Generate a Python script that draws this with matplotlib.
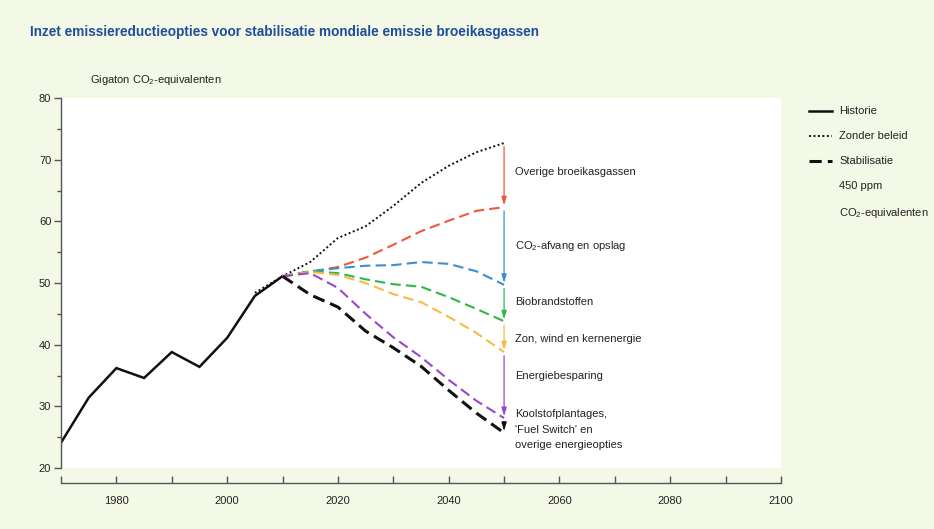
import matplotlib
matplotlib.use('Agg')
import matplotlib.pyplot as plt
from matplotlib.ticker import MultipleLocator
from matplotlib.lines import Line2D

FONT = ['Liberation Sans', 'DejaVu Sans']
plt.rcParams['font.family'] = FONT
plt.rcParams['mathtext.fontset'] = 'custom'
plt.rcParams['mathtext.rm'] = 'Liberation Sans'
plt.rcParams['mathtext.it'] = 'Liberation Sans'

# data (Gigaton CO2-equivalenten)
hist_years = [1970, 1975, 1980, 1985, 1990, 1995, 2000, 2005, 2010]
hist_vals = [24.1, 31.4, 36.2, 34.6, 38.8, 36.4, 41.1, 47.9, 51.1]

base_years = [2005, 2010, 2015, 2020, 2025, 2030, 2035, 2040, 2045, 2050]
base_vals = [48.4, 51.1, 53.4, 57.3, 59.2, 62.5, 66.2, 69.0, 71.2, 72.7]

scen_years = [2010, 2015, 2020, 2025, 2030, 2035, 2040, 2045, 2050]
overig = [51.1, 51.8, 52.6, 54.1, 56.2, 58.4, 60.1, 61.7, 62.3]
ccs = [51.1, 51.9, 52.4, 52.8, 52.9, 53.4, 53.1, 51.9, 49.7]
bio = [51.1, 51.9, 51.6, 50.6, 49.8, 49.4, 47.7, 45.8, 43.8]
zon = [51.1, 51.8, 51.3, 50.0, 48.2, 46.9, 44.5, 41.9, 38.8]
besparing = [51.1, 51.6, 49.2, 45.0, 41.2, 38.0, 34.3, 30.9, 28.1]
stabil = [51.1, 48.1, 46.1, 42.2, 39.5, 36.5, 32.6, 28.9, 25.7]

option_labels = ['Overige broeikasgassen', 'CO$_2$-afvang en opslag', 'Biobrandstoffen',
                 'Zon, wind en kernenergie', 'Energiebesparing',
                 "Koolstofplantages,\n'Fuel Switch' en\noverige energieopties"]
label_y = [68.0, 56.0, 46.9, 40.9, 34.9, 26.2]
colors = ['#f0583a', '#3a8fd0', '#2db84a', '#fdb944', '#9a46c8', '#111111']

bg = '#f4f9e7'
title_blue = '#1f4e9c'

fig = plt.figure(figsize=(9.34, 5.29), dpi=100, facecolor=bg)
ax = fig.add_axes([61 / 934, 1 - 468 / 529, 720 / 934, 370 / 529])
ax.set_facecolor('white')

ax.plot(hist_years, hist_vals, color='#111111', lw=1.8, solid_joinstyle='miter')
ax.plot(base_years, base_vals, color='#111111', lw=1.4, ls=(0, (1, 1.3)))
series = [overig, ccs, bio, zon, besparing]
for vals, c in zip(series, colors):
    ax.plot(scen_years, vals, color=c, lw=1.5, ls=(0, (5, 2.5)))
ax.plot(scen_years, stabil, color='#111111', lw=2.2, ls=(0, (4, 2)))

# arrows at 2050 between successive lines
ends = [base_vals[-1]] + [s[-1] for s in series] + [stabil[-1]]
for i, c in enumerate(colors):
    top, bot = ends[i], ends[i + 1]
    ax.annotate('', xy=(2050, bot + 0.3), xytext=(2050, top - 0.6),
                arrowprops=dict(arrowstyle='-|>,head_length=0.5,head_width=0.15',
                                color=c, lw=0.9, shrinkA=0, shrinkB=0))

for txt, y in zip(option_labels, label_y):
    ax.text(2052, y, txt, fontsize=8, va='center', ha='left', color='#222222',
            linespacing=1.7)

ax.set_xlim(1970, 2100)
ax.set_ylim(20, 80)
ax.yaxis.set_major_locator(MultipleLocator(10))
ax.yaxis.set_minor_locator(MultipleLocator(5))
ax.set_xticks([1980, 2000, 2020, 2040, 2060, 2080, 2100])
ax.set_xticks(range(1970, 2101, 10), minor=True)

for s in ['top', 'right']:
    ax.spines[s].set_visible(False)
ax.spines['bottom'].set_position(('outward', 10.5))
for s in ['bottom', 'left']:
    ax.spines[s].set_color('#555555')
    ax.spines[s].set_linewidth(1.0)

ax.tick_params(axis='x', which='both', direction='in', length=5, width=1,
               color='#555555', labelsize=8, labelcolor='#222222', pad=10)
ax.tick_params(axis='y', which='major', direction='out', length=5, width=1,
               color='#555555', labelsize=8, labelcolor='#222222', pad=2)
ax.tick_params(axis='y', which='minor', direction='out', length=3, width=1,
               color='#555555')

fig.text(30 / 934, 1 - 32 / 529, 'Inzet emissiereductieopties voor stabilisatie mondiale emissie broeikasgassen',
         fontsize=9.8, fontweight='bold', color=title_blue, va='center', ha='left')
fig.text(90 / 934, 1 - 80 / 529, 'Gigaton CO$_2$-equivalenten', fontsize=8,
         va='center', ha='left', color='#222222')

# legend
handles = [Line2D([], [], color='#111111', lw=1.8),
           Line2D([], [], color='#111111', lw=1.4, ls=(0, (1, 1.3))),
           Line2D([], [], color='#111111', lw=2.2, ls=(0, (4, 2))),
           Line2D([], [], color='none'),
           Line2D([], [], color='none')]
labels = ['Historie', 'Zonder beleid', 'Stabilisatie', '450 ppm', 'CO$_2$-equivalenten']
leg = fig.legend(handles, labels, loc='upper left', bbox_to_anchor=(805 / 934, 1 - 102 / 529),
                 frameon=False, fontsize=8, handlelength=2.0, handletextpad=0.7,
                 labelspacing=1.35, borderaxespad=0)
for t in leg.get_texts():
    t.set_color('#222222')

fig.savefig('out.png', dpi=100, facecolor=bg)
